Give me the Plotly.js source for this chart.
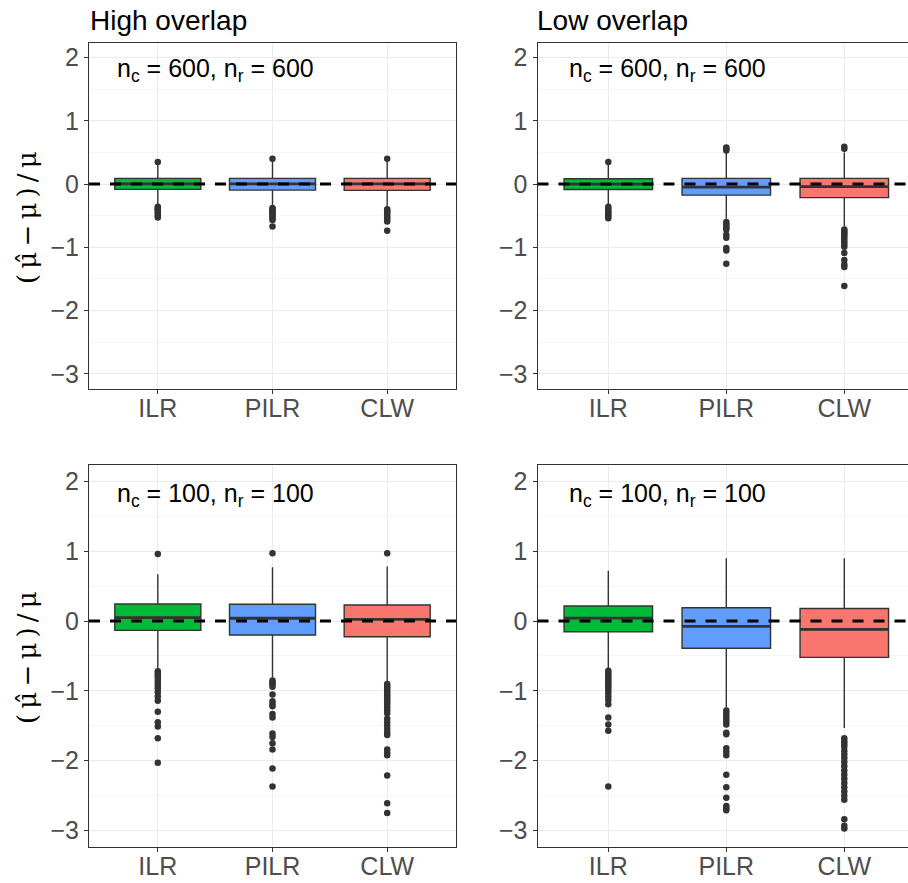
<!DOCTYPE html>
<html>
<head>
<meta charset="utf-8">
<script src="https://cdn.plot.ly/plotly-3.0.1.min.js"></script>
<style>html,body{margin:0;padding:0;background:#fff;overflow:hidden;}</style>
</head>
<body>
<div id="chart" style="width:908px;height:883px;"></div>
<script>
// ---------------- data ----------------
const categories = ['ILR', 'PILR', 'CLW'];
const panelTitles = ['High overlap', 'Low overlap'];
const sampleLabels = ['n<sub>c</sub> = 600, n<sub>r</sub> = 600', 'n<sub>c</sub> = 100, n<sub>r</sub> = 100'];

// High overlap, n = 600
const hi600_lower  = [-0.32, -0.36, -0.37];
const hi600_q1     = [-0.084, -0.095, -0.10];
const hi600_median = [0.003, 0.003, 0.003];
const hi600_q3     = [0.09, 0.09, 0.09];
const hi600_upper  = [0.31, 0.36, 0.36];
const hi600_outliers = [
  [0.35, -0.36, -0.38, -0.40, -0.42, -0.44, -0.47, -0.50, -0.53],
  [0.40, -0.38, -0.40, -0.42, -0.44, -0.46, -0.48, -0.51, -0.54, -0.57, -0.67],
  [0.40, -0.40, -0.42, -0.44, -0.47, -0.50, -0.53, -0.56, -0.59, -0.74]
];

// Low overlap, n = 600
const lo600_lower  = [-0.32, -0.55, -0.67];
const lo600_q1     = [-0.085, -0.175, -0.215];
const lo600_median = [0.0, -0.047, -0.042];
const lo600_q3     = [0.085, 0.09, 0.09];
const lo600_upper  = [0.30, 0.50, 0.50];
const lo600_outliers = [
  [0.35, -0.36, -0.39, -0.42, -0.45, -0.48, -0.51, -0.54],
  [0.53, 0.56, 0.58, -0.60, -0.63, -0.66, -0.69, -0.72, -0.80, -0.85, -1.01, -1.05, -1.26],
  [0.56, 0.59, -0.72, -0.75, -0.78, -0.81, -0.84, -0.88, -0.92, -0.96, -0.99, -1.09, -1.20, -1.27, -1.31, -1.61]
];

// High overlap, n = 100
const hi100_lower  = [-0.69, -0.81, -0.88];
const hi100_q1     = [-0.134, -0.20, -0.224];
const hi100_median = [0.048, 0.04, 0.024];
const hi100_q3     = [0.245, 0.24, 0.23];
const hi100_upper  = [0.67, 0.77, 0.78];
const hi100_outliers = [
  [0.96, -0.72, -0.75, -0.78, -0.81, -0.85, -0.89, -0.93, -0.97, -1.02, -1.08, -1.14, -1.30, -1.45, -1.51, -1.68, -2.03],
  [0.97, -0.85, -0.88, -0.91, -0.94, -1.05, -1.15, -1.19, -1.22, -1.33, -1.38, -1.61, -1.66, -1.75, -1.84, -2.11, -2.37],
  [0.97, -0.90, -0.93, -0.96, -0.99, -1.02, -1.05, -1.08, -1.11, -1.14, -1.17, -1.20, -1.24, -1.28, -1.32,
   -1.40, -1.45, -1.50, -1.55, -1.60, -1.63, -1.84, -1.88, -1.92, -2.21, -2.61, -2.75]
];

// Low overlap, n = 100
const lo100_lower  = [-0.68, -1.24, -1.53];
const lo100_q1     = [-0.153, -0.39, -0.52];
const lo100_median = [0.043, -0.076, -0.12];
const lo100_q3     = [0.215, 0.19, 0.18];
const lo100_upper  = [0.72, 0.90, 0.90];
const lo100_outliers = [
  [-0.71, -0.74, -0.77, -0.80, -0.83, -0.86, -0.89, -0.92, -0.95, -0.99, -1.03, -1.08, -1.13, -1.19, -1.38, -1.48, -1.57, -2.37],
  [-1.28, -1.32, -1.36, -1.40, -1.44, -1.48, -1.60, -1.62, -1.82, -1.87, -1.92, -2.20, -2.38, -2.53, -2.65, -2.68, -2.71],
  [-1.68, -1.72, -1.76, -1.80, -1.86, -1.91, -1.96, -2.02, -2.08, -2.14, -2.20, -2.26, -2.32,
   -2.38, -2.44, -2.50, -2.56, -2.84, -2.93, -2.97]
];

// ---------------- styling / layout ----------------
const fills = ['#00BA38', '#619CFF', '#F8766D'];
const W = 908, H = 883;
const px = v => v / W;
const py = v => (H - v) / H;

const panels = [
  {xa: 'x',  ya: 'y',  lower: hi600_lower, q1: hi600_q1, med: hi600_median, q3: hi600_q3, upper: hi600_upper, out: hi600_outliers, label: sampleLabels[0]},
  {xa: 'x2', ya: 'y2', lower: lo600_lower, q1: lo600_q1, med: lo600_median, q3: lo600_q3, upper: lo600_upper, out: lo600_outliers, label: sampleLabels[0]},
  {xa: 'x3', ya: 'y3', lower: hi100_lower, q1: hi100_q1, med: hi100_median, q3: hi100_q3, upper: hi100_upper, out: hi100_outliers, label: sampleLabels[1]},
  {xa: 'x4', ya: 'y4', lower: lo100_lower, q1: lo100_q1, med: lo100_median, q3: lo100_q3, upper: lo100_upper, out: lo100_outliers, label: sampleLabels[1]}
];

const traces = [];
const shapes = [];
const annotations = [];
const boxW = 0.75;

panels.forEach((p, pi) => {
  categories.forEach((c, i) => {
    traces.push({
      type: 'box', xaxis: p.xa, yaxis: p.ya,
      x: [c], q1: [p.q1[i]], median: [p.med[i]], q3: [p.q3[i]],
      lowerfence: [p.lower[i]], upperfence: [p.upper[i]],
      width: boxW, whiskerwidth: 0, boxpoints: false,
      fillcolor: fills[i], line: {color: '#333333', width: 1.4},
      showlegend: false, hoverinfo: 'skip'
    });
    // thicker median line (ggplot style)
    traces.push({
      type: 'box', xaxis: p.xa, yaxis: p.ya,
      x: [c], q1: [p.med[i]], median: [p.med[i]], q3: [p.med[i]],
      lowerfence: [p.med[i]], upperfence: [p.med[i]],
      width: boxW, whiskerwidth: 0, boxpoints: false,
      fillcolor: 'rgba(0,0,0,0)', line: {color: '#333333', width: 2.8},
      showlegend: false, hoverinfo: 'skip'
    });
    traces.push({
      type: 'scatter', mode: 'markers', xaxis: p.xa, yaxis: p.ya,
      x: p.out[i].map(() => c), y: p.out[i],
      marker: {color: '#333333', size: 6.5},
      showlegend: false, hoverinfo: 'skip'
    });
  });
  const xref = p.xa === 'x' ? 'x domain' : p.xa + ' domain';
  shapes.push({
    type: 'line', xref: xref, yref: p.ya, x0: 0, x1: 1, y0: 0, y1: 0,
    line: {color: '#000000', width: 3, dash: '11px,10px'}, layer: 'above'
  });
  annotations.push({
    xref: p.xa, yref: p.ya, x: 0.5, y: 1.8, text: p.label, showarrow: false,
    xanchor: 'center', yanchor: 'middle',
    font: {family: 'Liberation Sans, Arial, sans-serif', size: 25, color: '#000000'}
  });
});

// panel titles
annotations.push({xref: 'paper', yref: 'paper', x: px(88), y: py(21), text: panelTitles[0], showarrow: false,
  xanchor: 'left', yanchor: 'middle', font: {family: 'Liberation Sans, Arial, sans-serif', size: 28, color: '#000000'}});
annotations.push({xref: 'paper', yref: 'paper', x: px(535), y: py(21), text: panelTitles[1], showarrow: false,
  xanchor: 'left', yanchor: 'middle', font: {family: 'Liberation Sans, Arial, sans-serif', size: 28, color: '#000000'}});

// y-axis titles
const yTitle = '(\u2009\u03BC\u0302\u2009\u2212\u2009\u03BC\u2009)\u2009/\u2009\u03BC';
[218, 658].forEach(cy => {
  annotations.push({xref: 'paper', yref: 'paper', x: px(27), y: py(cy), text: yTitle, showarrow: false,
    textangle: -90, xanchor: 'center', yanchor: 'middle',
    font: {family: 'DejaVu Serif, serif', size: 26, color: '#000000'}});
});

const tickFont = {family: 'Liberation Sans, Arial, sans-serif', size: 25, color: '#4D4D4D'};
function xAxis(domain, anchor, range) {
  return {
    domain: domain, anchor: anchor, type: 'category', categoryorder: 'array', categoryarray: categories,
    range: range, showgrid: true, gridcolor: '#EBEBEB', gridwidth: 1,
    showline: true, linecolor: '#333333', linewidth: 1, mirror: true,
    ticks: 'outside', ticklen: 4, tickwidth: 1, tickcolor: '#333333',
    ticklabelstandoff: -7,
    tickfont: tickFont, zeroline: false, fixedrange: true
  };
}
function yAxis(domain, anchor, mirror) {
  return {
    domain: domain, anchor: anchor, range: [-3.24, 2.235],
    tickmode: 'array', tickvals: [-3, -2, -1, 0, 1, 2],
    showgrid: true, gridcolor: '#EBEBEB', gridwidth: 1,
    minor: {tickmode: 'array', tickvals: [-2.5, -1.5, -0.5, 0.5, 1.5], showgrid: true, gridcolor: '#F0F0F0', gridwidth: 0.6, ticks: ''},
    showline: true, linecolor: '#333333', linewidth: 1, mirror: mirror,
    ticks: 'outside', ticklen: 4, tickwidth: 1, tickcolor: '#333333',
    tickfont: tickFont, zeroline: false, fixedrange: true
  };
}

const leftX = [px(89), px(456)];
const rightX = [px(537.5), 1];
const topY = [py(389), py(42.7)];
const botY = [py(847.3), py(465)];
const rightRange = [-0.6, -0.6 + (908 - 537.5) / 118];

const layout = {
  width: W, height: H,
  margin: {l: 0, r: 0, t: 0, b: 0},
  paper_bgcolor: '#FFFFFF', plot_bgcolor: '#FFFFFF',
  showlegend: false, boxmode: 'overlay',
  xaxis:  xAxis(leftX, 'y', [-0.6, 2.6]),
  xaxis2: xAxis(rightX, 'y2', rightRange),
  xaxis3: xAxis(leftX, 'y3', [-0.6, 2.6]),
  xaxis4: xAxis(rightX, 'y4', rightRange),
  yaxis:  yAxis(topY, 'x', true),
  yaxis2: yAxis(topY, 'x2', false),
  yaxis3: yAxis(botY, 'x3', true),
  yaxis4: yAxis(botY, 'x4', false),
  shapes: shapes,
  annotations: annotations
};

Plotly.newPlot('chart', traces, layout, {staticPlot: true, displayModeBar: false});
</script>
</body>
</html>
